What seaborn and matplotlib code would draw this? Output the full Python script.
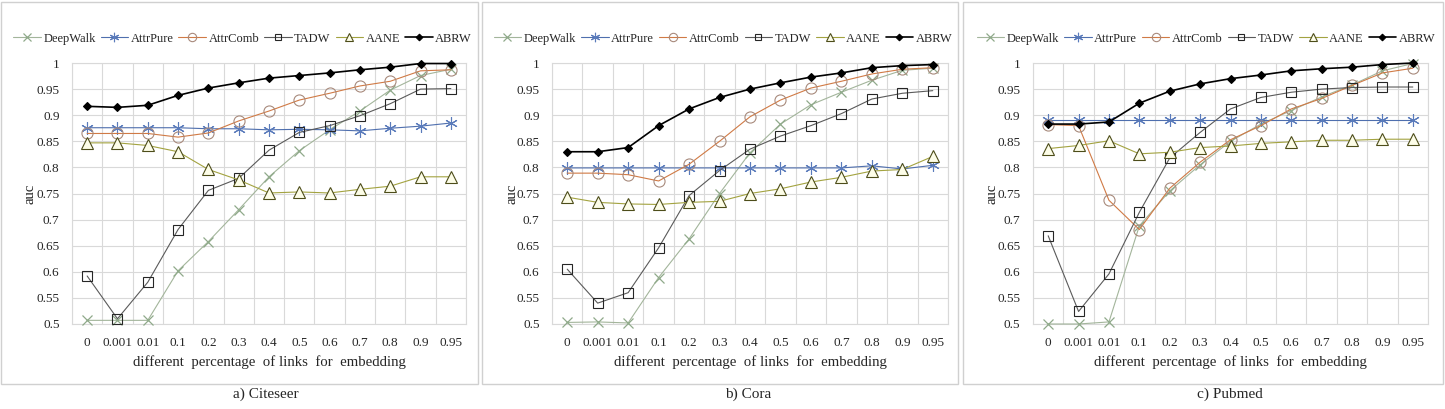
import matplotlib
matplotlib.use("Agg")
import matplotlib.pyplot as plt
from matplotlib.patches import Rectangle
import seaborn as sns
import pandas as pd
import numpy as np

sns.set_style("white")
plt.rcParams['font.family'] = ['Liberation Serif', 'DejaVu Serif']

# ---------------- data ----------------
x_labels = ["0", "0.001", "0.01", "0.1", "0.2", "0.3", "0.4", "0.5", "0.6", "0.7", "0.8", "0.9", "0.95"]
methods = ["DeepWalk", "AttrPure", "AttrComb", "TADW", "AANE", "ABRW"]
datasets = ["a) Citeseer", "b) Cora", "c) Pubmed"]

citeseer_deepwalk = [0.507, 0.507, 0.507, 0.602, 0.658, 0.719, 0.782, 0.832, 0.872, 0.908, 0.948, 0.976, 0.988]
citeseer_attrpure = [0.876, 0.876, 0.876, 0.876, 0.874, 0.874, 0.872, 0.873, 0.872, 0.870, 0.875, 0.879, 0.885]
citeseer_attrcomb = [0.865, 0.865, 0.865, 0.858, 0.866, 0.889, 0.908, 0.929, 0.942, 0.956, 0.965, 0.985, 0.987]
citeseer_tadw     = [0.592, 0.510, 0.580, 0.681, 0.756, 0.779, 0.833, 0.867, 0.880, 0.899, 0.922, 0.950, 0.951]
citeseer_aane     = [0.847, 0.847, 0.842, 0.830, 0.796, 0.776, 0.751, 0.753, 0.751, 0.758, 0.764, 0.782, 0.782]
citeseer_abrw     = [0.917, 0.915, 0.919, 0.938, 0.952, 0.962, 0.971, 0.976, 0.981, 0.987, 0.992, 0.999, 0.999]

cora_deepwalk = [0.503, 0.504, 0.502, 0.589, 0.663, 0.750, 0.828, 0.883, 0.920, 0.944, 0.967, 0.986, 0.990]
cora_attrpure = [0.799, 0.799, 0.799, 0.799, 0.799, 0.799, 0.799, 0.799, 0.799, 0.799, 0.803, 0.797, 0.804]
cora_attrcomb = [0.789, 0.789, 0.786, 0.774, 0.806, 0.850, 0.897, 0.929, 0.952, 0.965, 0.979, 0.988, 0.991]
cora_tadw     = [0.605, 0.540, 0.560, 0.646, 0.746, 0.794, 0.835, 0.860, 0.880, 0.903, 0.931, 0.942, 0.947]
cora_aane     = [0.743, 0.733, 0.730, 0.729, 0.733, 0.735, 0.750, 0.759, 0.772, 0.781, 0.793, 0.796, 0.821]
cora_abrw     = [0.830, 0.830, 0.838, 0.880, 0.912, 0.934, 0.950, 0.962, 0.973, 0.981, 0.991, 0.995, 0.997]

pubmed_deepwalk = [0.500, 0.500, 0.504, 0.688, 0.755, 0.805, 0.850, 0.883, 0.909, 0.935, 0.958, 0.985, 0.999]
pubmed_attrpure = [0.891, 0.891, 0.891, 0.891, 0.891, 0.891, 0.891, 0.891, 0.891, 0.891, 0.891, 0.891, 0.891]
pubmed_attrcomb = [0.882, 0.880, 0.737, 0.681, 0.760, 0.810, 0.853, 0.880, 0.912, 0.932, 0.957, 0.981, 0.990]
pubmed_tadw     = [0.669, 0.524, 0.596, 0.714, 0.818, 0.867, 0.912, 0.934, 0.944, 0.950, 0.953, 0.954, 0.954]
pubmed_aane     = [0.836, 0.842, 0.851, 0.826, 0.829, 0.838, 0.841, 0.846, 0.849, 0.852, 0.852, 0.854, 0.854]
pubmed_abrw     = [0.883, 0.883, 0.887, 0.923, 0.946, 0.960, 0.970, 0.977, 0.985, 0.989, 0.992, 0.997, 1.000]

y_ticks = [0.5, 0.55, 0.6, 0.65, 0.7, 0.75, 0.8, 0.85, 0.9, 0.95, 1.0]
y_tick_labels = ["0.5", "0.55", "0.6", "0.65", "0.7", "0.75", "0.8", "0.85", "0.9", "0.95", "1"]

all_series = [
    [citeseer_deepwalk, citeseer_attrpure, citeseer_attrcomb, citeseer_tadw, citeseer_aane, citeseer_abrw],
    [cora_deepwalk, cora_attrpure, cora_attrcomb, cora_tadw, cora_aane, cora_abrw],
    [pubmed_deepwalk, pubmed_attrpure, pubmed_attrcomb, pubmed_tadw, pubmed_aane, pubmed_abrw],
]

# ---------------- styles ----------------
styles = {
    "DeepWalk": dict(color="#a3b59b", marker="x", ms=7, mec="#8faa8a", mfc="none", mew=0.9, lw=0.8),
    "AttrPure": dict(color="#4f6fae", marker=(6, 2, 0), ms=9, mec="#5a7bbb", mfc="none", mew=0.8, lw=0.8),
    "AttrComb": dict(color="#d07a45", marker="o", ms=8, mec="#a88a7c", mfc="none", mew=0.8, lw=0.8),
    "TADW":     dict(color="#5a5a5a", marker="s", ms=6.5, mec="#262626", mfc="none", mew=0.8, lw=0.8),
    "AANE":     dict(color="#a3a340", marker="^", ms=8, mec="#4d4d1a", mfc="#fdfde8", mew=0.8, lw=0.8),
    "ABRW":     dict(color="#000000", marker="D", ms=4.5, mec="#000000", mfc="#000000", mew=0.8, lw=1.2),
}

W, H = 1445, 409
fig = plt.figure(figsize=(W / 100, H / 100), dpi=100)
fig.patch.set_facecolor("white")

ax_lefts = [72, 552, 1033]
ax_widths = [394, 396, 395]
ax_top, ax_bot = 63, 324
boxes = [(1, 478), (482, 958), (963, 1443)]
caption_x = [266, 748, 1230]

xpos = np.arange(len(x_labels))

for p in range(3):
    bx0, bx1 = boxes[p]
    fig.patches.append(Rectangle((bx0 / W, (H - 384) / H), (bx1 - bx0) / W, 382 / H,
                                 transform=fig.transFigure, fill=False,
                                 edgecolor="#d0d0d0", lw=1.0, zorder=0))
    ax = fig.add_axes([ax_lefts[p] / W, (H - ax_bot) / H, ax_widths[p] / W, (ax_bot - ax_top) / H])
    for m, vals in zip(methods, all_series[p]):
        st = styles[m]
        df = pd.DataFrame({"x": xpos, "auc": vals})
        sns.lineplot(data=df, x="x", y="auc", ax=ax, color=st["color"], lw=st["lw"],
                     marker=st["marker"], markersize=st["ms"], markeredgecolor=st["mec"],
                     markerfacecolor=st["mfc"], markeredgewidth=st["mew"], label=m,
                     zorder=5 if m == "ABRW" else 3, clip_on=False)
    ax.set_xlim(-0.5, len(x_labels) - 0.5)
    ax.set_ylim(0.5, 1.0)
    ax.set_xticks(xpos)
    ax.set_xticklabels(x_labels, fontsize=9.5)
    ax.set_xticks(np.arange(-0.5, len(x_labels), 1.0), minor=True)
    ax.set_yticks(y_ticks)
    ax.set_yticklabels(y_tick_labels, fontsize=9.5)
    ax.grid(False)
    ax.grid(True, which="minor", axis="x", color="#d9d9d9", lw=0.8)
    ax.grid(True, which="major", axis="y", color="#d9d9d9", lw=0.8)
    ax.tick_params(axis="both", which="both", length=0)
    ax.tick_params(axis="x", pad=9)
    ax.tick_params(axis="y", pad=9)
    for s in ax.spines.values():
        s.set_color("#d9d9d9")
        s.set_linewidth(0.8)
    ax.set_xlabel("different  percentage  of links  for  embedding", fontsize=10.6, labelpad=5)
    ax.set_ylabel("auc", fontsize=10.6)
    ax.yaxis.set_label_coords((bx0 + 36 - ax_lefts[p]) / ax_widths[p], 0.5)
    ax.set_axisbelow(True)
    # legend
    center_x = ((bx0 + bx1) / 2 + 3 - ax_lefts[p]) / ax_widths[p]
    ax.legend(loc="center", bbox_to_anchor=(center_x, 1.093), ncol=6, frameon=False,
              fontsize=9, handlelength=2.2, handletextpad=0.2, columnspacing=0.4,
              borderaxespad=0, borderpad=0, markerscale=0.75)
    fig.text(caption_x[p] / W, (H - 394) / H, datasets[p], ha="center", va="center", fontsize=11)

fig.savefig("out.png", dpi=100, facecolor="white")
